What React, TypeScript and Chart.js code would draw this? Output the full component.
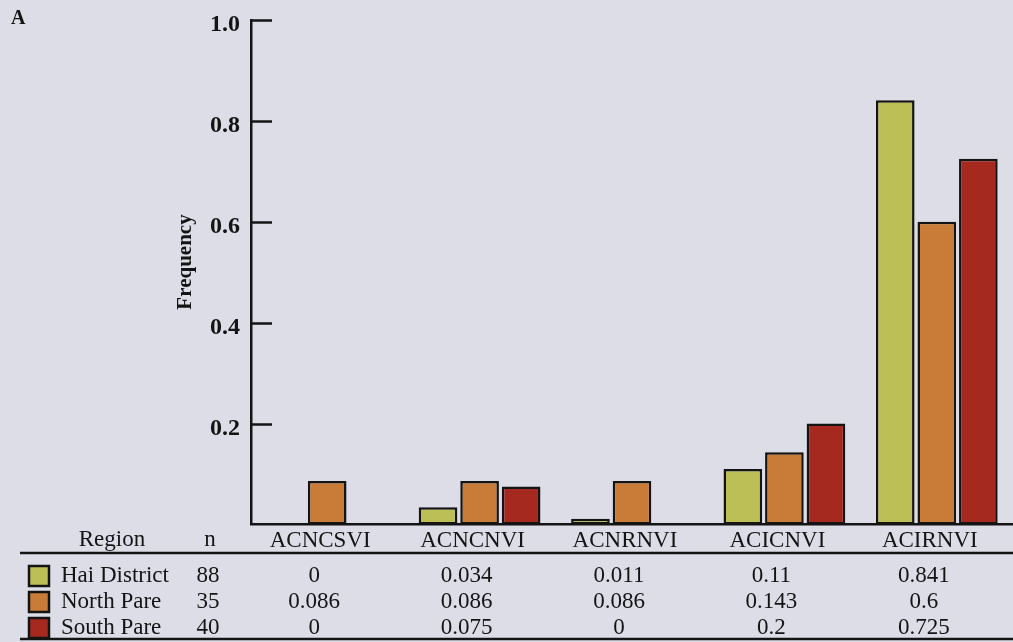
import { useEffect, useRef } from 'react';
import { Chart, registerables } from 'chart.js';

Chart.register(...registerables);

// Haplotype frequencies per region
const alleles = ['ACNCSVI', 'ACNCNVI', 'ACNRNVI', 'ACICNVI', 'ACIRNVI'];
const regions = ['Hai District', 'North Pare', 'South Pare'];
const sampleSizes = [88, 35, 40];
const haiDistrict = [0, 0.034, 0.011, 0.11, 0.841];
const northPare = [0.086, 0.086, 0.086, 0.143, 0.6];
const southPare = [0, 0.075, 0, 0.2, 0.725];
const regionColors = ['#bbbf56', '#c97c37', '#a6291f'];

const W = 1013;
const H = 642;
const SERIF = "'Liberation Serif', 'Times New Roman', serif";
const INK = '#141414';

const seriesValues = [haiDistrict, northPare, southPare];

const figureExtras = {
  id: 'figureExtras',
  afterDraw(chart: any) {
    const { ctx, scales } = chart;
    const x = scales.x;
    const y = scales.y;
    ctx.save();

    // tick marks pointing into the plot
    ctx.strokeStyle = INK;
    ctx.lineWidth = 2.5;
    y.ticks.forEach((t: any) => {
      if (t.value === 0) return;
      const py = Math.round(y.getPixelForValue(t.value)) + 0.5;
      ctx.beginPath();
      ctx.moveTo(x.left, py);
      ctx.lineTo(x.left + 21, py);
      ctx.stroke();
    });

    // axis title
    ctx.fillStyle = INK;
    ctx.save();
    ctx.translate(186, 262);
    ctx.rotate(-Math.PI / 2);
    ctx.font = `bold 21px ${SERIF}`;
    ctx.textAlign = 'center';
    ctx.textBaseline = 'middle';
    ctx.fillText('Frequency', 0, 0);
    ctx.restore();

    // panel letter
    ctx.font = `bold 20px ${SERIF}`;
    ctx.textAlign = 'left';
    ctx.textBaseline = 'middle';
    ctx.fillText('A', 11, 19);

    // table under the axis
    const headerY = 540;
    ctx.font = `23px ${SERIF}`;
    ctx.textAlign = 'center';
    ctx.fillText('Region', 112, headerY);
    ctx.fillText('n', 210, headerY);

    ctx.lineWidth = 2.5;
    ctx.beginPath();
    ctx.moveTo(20, 553);
    ctx.lineTo(W, 553);
    ctx.stroke();

    const rowY = [576, 602, 628];
    regions.forEach((name, r) => {
      const cy = rowY[r];
      ctx.fillStyle = regionColors[r];
      ctx.fillRect(29, cy - 10, 20, 20);
      ctx.strokeStyle = INK;
      ctx.lineWidth = 2.5;
      ctx.strokeRect(29, cy - 10, 20, 20);

      ctx.fillStyle = INK;
      ctx.textAlign = 'left';
      ctx.fillText(name, 61, cy);
      ctx.textAlign = 'center';
      ctx.fillText(String(sampleSizes[r]), 208, cy);
      seriesValues[r].forEach((v, i) => {
        ctx.fillText(String(v), x.getPixelForValue(i) - 13, cy);
      });
    });

    ctx.beginPath();
    ctx.moveTo(20, 639);
    ctx.lineTo(W, 639);
    ctx.stroke();

    ctx.restore();
  },
};

export default function App() {
  const canvasRef = useRef<HTMLCanvasElement | null>(null);

  useEffect(() => {
    const canvas = canvasRef.current;
    if (!canvas) return;

    const chart = new Chart(canvas, {
      type: 'bar',
      data: {
        labels: alleles,
        datasets: regions.map((name, r) => ({
          label: name,
          data: seriesValues[r],
          backgroundColor: regionColors[r],
          borderColor: INK,
          borderWidth: 2.5,
          borderSkipped: false,
          categoryPercentage: 0.818,
          barPercentage: 0.93,
        })),
      },
      options: {
        responsive: false,
        animation: false,
        events: [],
        layout: { padding: { top: 20, right: 0, bottom: 84, left: 0 } },
        plugins: {
          legend: { display: false },
          tooltip: { enabled: false },
          title: { display: false },
        },
        scales: {
          x: {
            type: 'category',
            offset: true,
            grid: { display: false, drawTicks: false },
            border: { display: true, color: INK, width: 2.5 },
            ticks: {
              color: INK,
              padding: 3,
              labelOffset: -7,
              maxRotation: 0,
              font: { family: SERIF, size: 23 },
            },
          },
          y: {
            type: 'linear',
            min: 0,
            max: 1,
            grid: { display: false, drawTicks: false },
            border: { display: true, color: INK, width: 2.5 },
            afterFit(scale: any) {
              scale.width = 251;
              scale.paddingTop = 0;
              scale.paddingBottom = 0;
            },
            ticks: {
              stepSize: 0.2,
              color: INK,
              padding: 11,
              labelOffset: 5,
              font: { family: SERIF, size: 24, weight: 'bold' },
              callback: (v: any) => (Number(v) === 0 ? '' : Number(v).toFixed(1)),
            },
          },
        },
      },
      plugins: [figureExtras],
    });

    return () => chart.destroy();
  }, []);

  return (
    <div
      style={{
        position: 'fixed',
        left: 0,
        top: 0,
        width: W,
        height: H,
        background: '#dcdde6',
        overflow: 'hidden',
      }}
    >
      <canvas ref={canvasRef} width={W} height={H} style={{ display: 'block' }} />
    </div>
  );
}
